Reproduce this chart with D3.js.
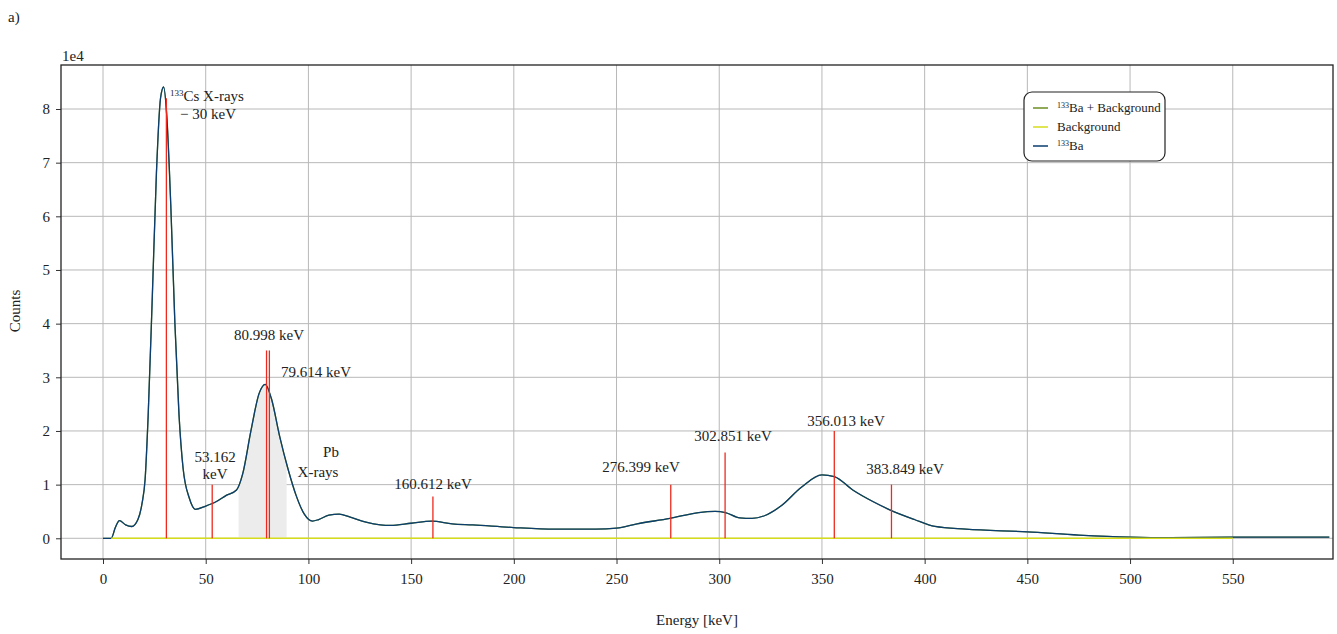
<!DOCTYPE html>
<html>
<head>
<meta charset="utf-8">
<script src="https://cdn.jsdelivr.net/npm/d3@7"></script>
<style>
  html, body { margin: 0; padding: 0; background: #fff; }
  svg { display: block; }
  svg text { font-family: "Liberation Serif", "DejaVu Serif", serif !important; }
</style>
</head>
<body>
<svg id="chart" width="1337" height="634"></svg>
<script>
// ---- data (counts in units of 1e4) ----
const baEnergy = [0, 4, 6, 8, 11, 14, 17, 19, 20.5, 22, 24, 26, 28, 29.5, 31, 33, 35, 37, 39, 42, 45, 50, 55, 60, 65, 68, 72, 76, 79, 82, 86, 90, 94, 98, 102, 105, 110, 115, 120, 128, 135, 140, 150, 160, 170, 180, 200, 220, 240, 250, 260, 276, 290, 298, 303, 310, 316, 322, 330, 340, 350, 356, 365, 375, 383, 395, 405, 420, 450, 475, 500, 520, 550, 597];
const baCounts = [0, 0, 0.2, 0.33, 0.25, 0.22, 0.35, 0.65, 1.1, 2.3, 4.5, 6.8, 8.2, 8.41, 7.9, 6.2, 4.0, 2.3, 1.3, 0.75, 0.54, 0.6, 0.68, 0.8, 0.9, 1.2, 2.0, 2.7, 2.87, 2.6, 1.9, 1.3, 0.8, 0.45, 0.32, 0.35, 0.43, 0.45, 0.4, 0.3, 0.25, 0.24, 0.28, 0.32, 0.27, 0.25, 0.2, 0.17, 0.17, 0.19, 0.27, 0.37, 0.48, 0.5, 0.48, 0.38, 0.37, 0.42, 0.6, 0.95, 1.18, 1.15, 0.9, 0.68, 0.53, 0.35, 0.22, 0.17, 0.12, 0.06, 0.02, 0.01, 0.02, 0.02];
const bgEnergy = [4, 100, 200, 300, 400, 500, 550];
const bgCounts = [0, 0, 0, 0, 0, 0, 0];

const peakEnergies = [30.85, 53.162, 79.614, 80.998, 160.612, 276.399, 302.851, 356.013, 383.849];
const peakHeights  = [8.2, 1.0, 3.5, 3.5, 0.78, 1.0, 1.6, 2.0, 1.0];

const shadeRange = [66, 89.4];

const xTicks = [0, 50, 100, 150, 200, 250, 300, 350, 400, 450, 500, 550];
const yTicks = [0, 1, 2, 3, 4, 5, 6, 7, 8];

const legendLabels = ["Ba + Background", "Background", "Ba"];
const colors = { combined: "#6b8e23", bg: "#d6dc1a", ba: "#0b3d6e", peak: "#ee2a1e", shade: "#ececec" };

// ---- layout ----
const svg = d3.select("#chart");
const L = 61, R = 1333, T = 65, B = 559;
const x = d3.scaleLinear().domain([-20.45, 598.8]).range([L, R]);
const y = d3.scaleLinear().domain([-0.386, 8.82]).range([B, T]);

// grid
const g = svg.append("g");
g.selectAll(".vg").data(xTicks).join("line")
  .attr("x1", d => x(d)).attr("x2", d => x(d)).attr("y1", T).attr("y2", B)
  .attr("stroke", "#b8b8b8").attr("stroke-width", 1);
g.selectAll(".hg").data(yTicks).join("line")
  .attr("x1", L).attr("x2", R).attr("y1", d => y(d)).attr("y2", d => y(d))
  .attr("stroke", "#b8b8b8").attr("stroke-width", 1);

const baData = baEnergy.map((e, i) => [e, baCounts[i]]);
const bgData = bgEnergy.map((e, i) => [e, bgCounts[i]]);
const combData = baData.map(d => [d[0], d[1] + 0]);

const curve = d3.curveMonotoneX;
const line = d3.line().x(d => x(d[0])).y(d => y(d[1])).curve(curve);

// shaded region under curve
const area = d3.area().x(d => x(d[0])).y0(y(0)).y1(d => y(d[1])).curve(curve);
const clipId = "shadeClip";
svg.append("clipPath").attr("id", clipId).append("rect")
  .attr("x", x(shadeRange[0])).attr("y", T).attr("width", x(shadeRange[1]) - x(shadeRange[0])).attr("height", B - T);
svg.append("path").datum(baData).attr("d", area).attr("fill", colors.shade)
  .attr("clip-path", `url(#${clipId})`);

// lines
svg.append("path").datum(combData).attr("d", line).attr("fill", "none").attr("stroke", colors.combined).attr("stroke-width", 1.3);
svg.append("path").datum(baData).attr("d", line).attr("fill", "none").attr("stroke", colors.ba).attr("stroke-width", 1.3);
svg.append("path").datum(bgData).attr("d", line).attr("fill", "none").attr("stroke", colors.bg).attr("stroke-width", 1.5);

// peak markers
svg.selectAll(".pk").data(peakEnergies).join("line")
  .attr("x1", d => x(d)).attr("x2", d => x(d))
  .attr("y1", y(0)).attr("y2", (d, i) => y(peakHeights[i]))
  .attr("stroke", colors.peak).attr("stroke-width", 1.3);

// axes
const xAxis = d3.axisBottom(x).tickValues(xTicks).tickSize(5).tickPadding(9);
const yAxis = d3.axisLeft(y).tickValues(yTicks).tickSize(5).tickPadding(6);
const xa = svg.append("g").attr("transform", `translate(0,${B})`).call(xAxis);
const ya = svg.append("g").attr("transform", `translate(${L},0)`).call(yAxis);
[xa, ya].forEach(a => {
  a.select(".domain").remove();
  a.attr("font-family", null).attr("font-size", null);
  a.selectAll("text").style("font-size", "15px").attr("fill", "#222");
  a.selectAll("line").attr("stroke", "#333");
});
svg.append("rect").attr("x", L).attr("y", T).attr("width", R - L).attr("height", B - T)
  .attr("fill", "none").attr("stroke", "#222").attr("stroke-width", 1.3);

// texts
function txt(xp, yp, s, anchor, size) {
  return svg.append("text").attr("x", xp).attr("y", yp).attr("text-anchor", anchor || "middle")
    .style("font-size", (size || 15) + "px").attr("fill", "#222").text(s);
}
txt(8, 22, "a)", "start", 15);
txt(62, 61, "1e4", "start", 15);
txt(697, 625, "Energy [keV]");
svg.append("text").attr("transform", "translate(20,311) rotate(-90)").attr("text-anchor", "middle")
  .style("font-size", "15px").attr("fill", "#222").text("Counts");

// Cs annotation
const cs = svg.append("text").attr("x", 170).attr("y", 101).style("font-size", "15px").attr("fill", "#222");
cs.append("tspan").style("font-size", "9px").attr("dy", -5).text("133");
cs.append("tspan").attr("dy", 5).text("Cs X-rays");
txt(208, 119, "− 30 keV");

txt(269, 340, "80.998 keV");
txt(316, 377, "79.614 keV");
txt(215, 462, "53.162");
txt(215, 479, "keV");
txt(331, 457, "Pb");
txt(318, 477, "X-rays");
txt(433, 489, "160.612 keV");
txt(641, 472, "276.399 keV");
txt(733, 441, "302.851 keV");
txt(846, 426, "356.013 keV");
txt(905, 474, "383.849 keV");

// legend
const lg = svg.append("g");
lg.append("rect").attr("x", 1024).attr("y", 92).attr("width", 141).attr("height", 69).attr("rx", 8)
  .attr("fill", "#fff").attr("stroke", "#222").attr("stroke-width", 1.2);
const legColors = [colors.combined, colors.bg, colors.ba];
const legSup = [true, false, true];
legendLabels.forEach((lab, i) => {
  const yy = 108 + i * 19;
  lg.append("line").attr("x1", 1033).attr("x2", 1048).attr("y1", yy).attr("y2", yy)
    .attr("stroke", legColors[i]).attr("stroke-width", 1.5);
  const t = lg.append("text").attr("x", 1057).attr("y", yy + 4).style("font-size", "13px").attr("fill", "#222");
  if (legSup[i]) {
    t.append("tspan").style("font-size", "8px").attr("dy", -4).text("133");
    t.append("tspan").attr("dy", 4).text(lab);
  } else t.text(lab);
});
</script>
</body>
</html>
